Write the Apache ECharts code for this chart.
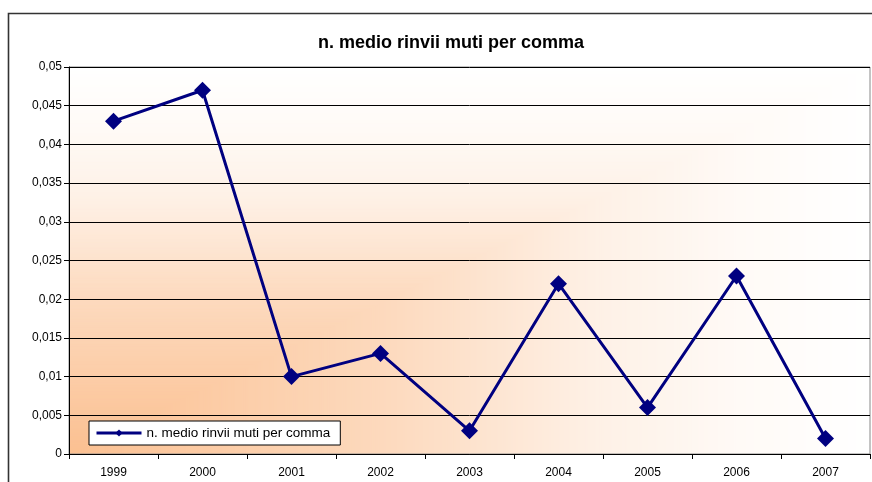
<!DOCTYPE html>
<html>
<head>
<meta charset="utf-8">
<script src="https://cdn.jsdelivr.net/npm/echarts@6/dist/echarts.min.js"></script>
<style>
  html, body { margin: 0; padding: 0; background: #fff; }
  #chart { width: 872px; height: 482px; }
</style>
</head>
<body>
<div id="chart"></div>
<script>
var years = ['1999', '2000', '2001', '2002', '2003', '2004', '2005', '2006', '2007']
var rinvii = [0.043, 0.047, 0.010, 0.013, 0.003, 0.022, 0.006, 0.023, 0.002]
var seriesName = 'n. medio rinvii muti per comma'

var gridLeft = 69, gridTop = 67, gridW = 801, gridH = 387

// sfondo "dall'angolo": arancio in basso a sinistra, bianco verso i bordi alto/destra
function cornerFill() {
    var cv = document.createElement('canvas')
    cv.width = gridW
    cv.height = gridH
    var ctx = cv.getContext('2d')
    var from = [251, 192, 145]
    // s = distanza relativa dall'angolo, t = quota di bianco
    var ramp = [[0, 0], [0.41, 0.42], [0.66, 0.77], [0.84, 0.92], [1, 1]]
    var steps = 400
    for (var i = steps; i >= 0; i--) {
        var s = i / steps
        var t = 1
        for (var k = 1; k < ramp.length; k++) {
            if (s <= ramp[k][0]) {
                var a = ramp[k - 1], b = ramp[k]
                t = a[1] + (b[1] - a[1]) * (s - a[0]) / (b[0] - a[0])
                break
            }
        }
        var c = from.map(function(v) { return Math.round(v + (255 - v) * t) })
        ctx.fillStyle = 'rgb(' + c.join(',') + ')'
        var w = Math.max(1, s * gridW), h = Math.max(1, s * gridH)
        ctx.fillRect(0, gridH - h, w, h)
    }
    return cv
}

var myChart = echarts.init(document.getElementById('chart'))

var option = {
    animation: false,
    textStyle: { fontFamily: 'Liberation Sans, Arial, sans-serif' },
    title: {
        text: 'n. medio rinvii muti per comma',
        left: 446,
        top: 29,
        textAlign: 'center',
        textStyle: { fontSize: 18, fontWeight: 'bold', color: '#000', fontFamily: 'Liberation Sans, Arial, sans-serif' }
    },
    graphic: [{
        type: 'image',
        left: gridLeft,
        top: gridTop,
        z: -10,
        style: { image: cornerFill(), width: gridW, height: gridH }
    }, {
        type: 'rect',
        shape: { x: 8.5, y: 13.5, width: 880, height: 490 },
        style: { fill: null, stroke: '#333', lineWidth: 1.6 },
        z: 100
    }],
    legend: {
        left: 89,
        top: 421,
        orient: 'horizontal',
        backgroundColor: '#fff',
        borderColor: '#000',
        borderWidth: 1,
        padding: [5, 10, 5, 6],
        itemWidth: 45,
        itemHeight: 9,
        itemGap: 4,
        lineStyle: { width: 3 },
        textStyle: { fontSize: 13.5, color: '#000' },
        data: [seriesName]
    },
    grid: {
        left: gridLeft,
        top: gridTop,
        width: gridW,
        height: gridH,
        show: true,
        borderColor: '#888',
        borderWidth: 1,
        backgroundColor: 'transparent'
    },
    xAxis: {
        type: 'category',
        data: years,
        boundaryGap: true,
        axisLine: { lineStyle: { color: '#000', width: 1 } },
        axisTick: { show: true, length: 5, inside: false, lineStyle: { color: '#000' } },
        axisLabel: { color: '#000', fontSize: 12, margin: 13 },
        splitLine: { show: false }
    },
    yAxis: {
        type: 'value',
        min: 0,
        max: 0.05,
        interval: 0.005,
        axisLine: { show: true, lineStyle: { color: '#000', width: 1 } },
        axisTick: { show: true, length: 5, lineStyle: { color: '#000' } },
        axisLabel: {
            color: '#000',
            fontSize: 12,
            margin: 7,
            formatter: function(v) {
                return String(Math.round(v * 1000) / 1000).replace('.', ',')
            }
        },
        splitLine: { show: true, lineStyle: { color: '#000', width: 1 } }
    },
    series: [{
        name: seriesName,
        type: 'line',
        data: rinvii,
        symbol: 'diamond',
        symbolSize: 17,
        lineStyle: { color: '#000080', width: 3 },
        itemStyle: { color: '#000080' }
    }]
}

option && myChart.setOption(option)
</script>
</body>
</html>
